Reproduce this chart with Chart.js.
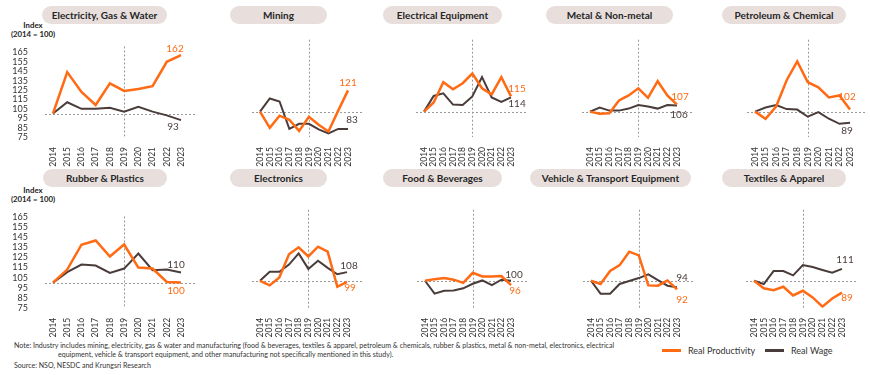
<!DOCTYPE html>
<html>
<head>
<meta charset="utf-8">
<script src="https://cdn.jsdelivr.net/npm/chart.js@4.4.1/dist/chart.umd.min.js"></script>
<style>
  body { margin: 0; width: 870px; height: 375px; background: #fff; position: relative; overflow: hidden; font-family: Lato, sans-serif; color: #333; }
  canvas { position: absolute; }
  .pill { position: absolute; height: 18px; line-height: 18px; border-radius: 9px; background: #e8dfdd; text-align: center; font-weight: bold; font-size: 10px; color: #262626; white-space: nowrap; }
  .idx { position: absolute; left: 8px; width: 50px; text-align: center; font-weight: bold; font-size: 7.8px; line-height: 9px; color: #222; }
  .note { position: absolute; font-size: 7.05px; color: #333; white-space: nowrap; }
  .leg { position: absolute; top: 345px; font-size: 9px; color: #333; white-space: nowrap; }
  .leg i { display: inline-block; width: 19px; height: 2.5px; vertical-align: middle; margin-right: 7px; position: relative; top: -1px; }
</style>
</head>
<body>
<div class="pill" style="left:42px;top:6px;width:125px">Electricity, Gas &amp; Water</div>
<div class="pill" style="left:230px;top:6px;width:97px">Mining</div>
<div class="pill" style="left:383px;top:6px;width:119px">Electrical Equipment</div>
<div class="pill" style="left:546px;top:6px;width:127px">Metal &amp; Non-metal</div>
<div class="pill" style="left:722px;top:6px;width:124px">Petroleum &amp; Chemical</div>
<div class="pill" style="left:43px;top:169px;width:124px">Rubber &amp; Plastics</div>
<div class="pill" style="left:230px;top:169px;width:97px">Electronics</div>
<div class="pill" style="left:383px;top:169px;width:119px">Food &amp; Beverages</div>
<div class="pill" style="left:530px;top:169px;width:161px">Vehicle &amp; Transport Equipment</div>
<div class="pill" style="left:722px;top:169px;width:124px">Textiles &amp; Apparel</div>

<div class="idx" style="top:21px">Index<br>(2014 = 100)</div>
<div class="idx" style="top:186px">Index<br>(2014 = 100)</div>

<div class="note" style="left:14px;top:341px">Note: Industry includes mining, electricity, gas &amp; water and manufacturing (food &amp; beverages, textiles &amp; apparel, petroleum &amp; chemicals, rubber &amp; plastics, metal &amp; non-metal, electronics, electrical</div>
<div class="note" style="left:58px;top:350px">equipment, vehicle &amp; transport equipment, and other manufacturing not specifically mentioned in this study).</div>
<div class="note" style="left:14px;top:361px">Source: NSO, NESDC and Krungsri Research</div>

<div class="leg" style="left:662px"><i style="background:#ff6a13"></i>Real Productivity</div>
<div class="leg" style="left:765px"><i style="background:#4a3c3a"></i>Real Wage</div>

<script>
const years = ['2014', '2015', '2016', '2017', '2018', '2019', '2020', '2021', '2022', '2023'];
const yTicks = [75, 85, 95, 105, 115, 125, 135, 145, 155, 165];

const elecProd = [100, 144, 123, 109, 132, 124, 126, 129, 155, 162];
const elecWage = [100, 112, 105, 105, 106, 102, 107, 102, 98, 93];
const miningProd = [100, 84, 96, 92, 81, 95, 87, 80.5, 101, 121];
const miningWage = [100, 113, 110, 83, 88, 88, 82.5, 78.5, 83, 83];
const elecEquipProd = [100, 109, 129, 122, 128, 137.6, 123, 117, 134, 115];
const elecEquipWage = [100, 115.5, 118, 107, 106.5, 115, 134, 114, 109.7, 114];
const metalProd = [100, 98, 98.5, 111, 116, 123, 113.6, 130, 116, 107];
const metalWage = [100, 104, 101, 101, 103, 106.5, 105, 103, 106.5, 106];
const petroProd = [100, 93, 105, 131, 149.5, 129, 124, 114, 116, 102];
const petroWage = [100, 104, 106.4, 102.5, 102, 95, 99.5, 93, 88, 89];
const rubberProd = [100, 113, 137.8, 142, 126, 138, 115, 114, 100.6, 100];
const rubberWage = [100, 110.5, 118, 117, 109.6, 114, 129, 112.4, 113, 110];
const electronicsProd = [100, 95.7, 103, 124.5, 131, 122.6, 131.6, 127, 94.4, 99];
const electronicsWage = [100, 108.4, 108.4, 115, 125.4, 111, 118.6, 112, 106, 108];
const foodProd = [100, 101.5, 102.5, 101, 98, 107.4, 104, 104, 104.3, 96];
const foodWage = [100, 88, 90.7, 91, 93, 97.2, 100.3, 96, 101, 100];
const vehicleProd = [100, 97, 109, 114.5, 127, 123.5, 95.7, 95.4, 100.3, 92];
const vehicleWage = [100, 88, 88, 97, 99.7, 102.5, 106, 100.6, 95.4, 94];
const textileProd = [100, 93, 91.3, 94.4, 86.4, 90.7, 84.5, 76, 83.6, 89];
const textileWage = [100, 97, 109, 109, 105, 114.5, 112.7, 110, 107.4, 111];

const ORANGE = '#ff6a13';
const DARK = '#4a3c3a';

// panel order: top row then bottom row; lab = [dx, dy] for the end-value labels
const panels = [
  { prod: elecProd, wage: elecWage, labP: [-6, -6], labW: [-8, 7] },
  { prod: miningProd, wage: miningWage, labP: [0, -8], labW: [4, -9] },
  { prod: elecEquipProd, wage: elecEquipWage, labP: [6, -8], labW: [6, 6] },
  { prod: metalProd, wage: metalWage, labP: [3, -8], labW: [2, 9] },
  { prod: petroProd, wage: petroWage, labP: [-3, -13], labW: [-3, 8] },
  { prod: rubberProd, wage: rubberWage, labP: [-5, 8], labW: [-5, -8] },
  { prod: electronicsProd, wage: electronicsWage, labP: [3, 6], labW: [2, -6] },
  { prod: foodProd, wage: foodWage, labP: [4, 6], labW: [3, -6] },
  { prod: vehicleProd, wage: vehicleWage, labP: [5, 10], labW: [5, -9] },
  { prod: textileProd, wage: textileWage, labP: [5, 5], labW: [3, -9] },
];

const rows = [
  { top: 30, padTop: 15.7, plotH: 91.3, lineExt: 6 },
  { top: 195, padTop: 15.7, plotH: 97, lineExt: 1 },
];
const cols = [
  [[53, 181], [207, 348], [371, 511], [537, 677], [702, 850]],
  [[53, 181], [207, 347], [372, 510.6], [538, 677], [701, 842]],
];
const X_AXIS_H = 30;
const PAD_BOTTOM = 12;

const guides = {
  id: 'guides',
  beforeDatasetsDraw(chart, args, opts) {
    const { ctx, chartArea: a, scales: { x, y } } = chart;
    ctx.save();
    ctx.strokeStyle = '#9a9a9a';
    ctx.lineWidth = 1;
    ctx.setLineDash([2, 2]);
    const y100 = Math.round(y.getPixelForValue(100)) + 0.5;
    ctx.beginPath();
    ctx.moveTo(a.left - 8, y100);
    ctx.lineTo(a.right + 16, y100);
    ctx.stroke();
    const xv = Math.round(x.getPixelForValue(years.indexOf('2019'))) + 0.5;
    ctx.beginPath();
    ctx.moveTo(xv, a.top - opts.ext);
    ctx.lineTo(xv, a.bottom);
    ctx.stroke();
    ctx.restore();
  },
  afterDatasetsDraw(chart, args, opts) {
    const { ctx } = chart;
    ctx.save();
    ctx.font = '10px Lato';
    ctx.textAlign = 'center';
    ctx.textBaseline = 'middle';
    chart.data.datasets.forEach((ds, i) => {
      const meta = chart.getDatasetMeta(i);
      const pt = meta.data[meta.data.length - 1];
      const off = opts.labels[i];
      ctx.fillStyle = ds.borderColor;
      ctx.fillText(Math.round(ds.data[ds.data.length - 1]), pt.x + off[0], pt.y + off[1]);
    });
    ctx.restore();
  },
};

panels.forEach((p, i) => {
  const row = i < 5 ? 0 : 1;
  const col = i % 5;
  const r = rows[row];
  const [x0, x1] = cols[row][col];
  const padL = col === 0 ? 0 : 24;
  const left = col === 0 ? 0 : x0 - padL;
  const width = Math.round(x1 + 20 - left);
  const height = Math.ceil(r.padTop + r.plotH + X_AXIS_H + PAD_BOTTOM);

  const cv = document.createElement('canvas');
  cv.width = width;
  cv.height = height;
  cv.style.left = left + 'px';
  cv.style.top = r.top + 'px';
  document.body.appendChild(cv);

  new Chart(cv, {
    type: 'line',
    data: {
      labels: years,
      datasets: [
        { label: 'Real Productivity', data: p.prod, borderColor: ORANGE, borderWidth: 2.5, pointRadius: 0, tension: 0 },
        { label: 'Real Wage', data: p.wage, borderColor: DARK, borderWidth: 2, pointRadius: 0, tension: 0 },
      ],
    },
    options: {
      responsive: false,
      animation: false,
      layout: { padding: { top: r.padTop, left: padL, right: 20, bottom: height - r.padTop - r.plotH - X_AXIS_H } },
      scales: {
        x: {
          offset: false,
          grid: { display: false },
          border: { display: false },
          ticks: { autoSkip: false, minRotation: 90, maxRotation: 90, padding: 2, color: '#333', font: { family: 'Lato', size: 8.5 } },
          afterFit: s => { s.height = X_AXIS_H; },
        },
        y: {
          display: col === 0,
          min: 75,
          max: 165,
          grid: { display: false },
          border: { display: false },
          afterBuildTicks: s => { s.ticks = yTicks.map(v => ({ value: v })); },
          ticks: { autoSkip: false, padding: 17, color: '#333', font: { family: 'Lato', size: 9 } },
          afterFit: s => { s.width = 53; },
        },
      },
      plugins: {
        legend: { display: false },
        tooltip: { enabled: false },
        guides: { ext: r.lineExt, labels: [p.labP, p.labW] },
      },
    },
    plugins: [guides],
  });
});
</script>
</body>
</html>
